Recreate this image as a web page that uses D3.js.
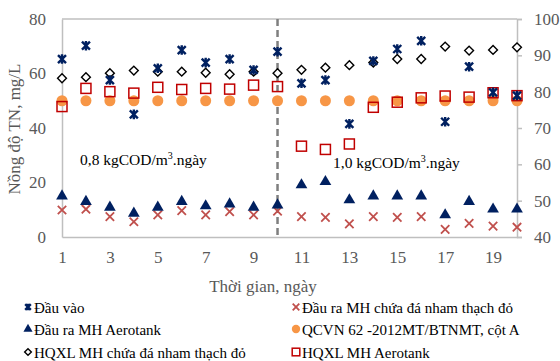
<!DOCTYPE html>
<html>
<head>
<meta charset="utf-8">
<script src="https://cdn.jsdelivr.net/npm/d3@7"></script>
<style>
  body { margin: 0; background: #fff; }
  svg, svg text { font-family: 'Liberation Serif', 'Times New Roman', 'DejaVu Serif', serif !important; }
</style>
</head>
<body>
<svg id="chart" width="560" height="361"></svg>
<script>
// days 1..20
const days = d3.range(1, 21);
const xTicks = [1, 3, 5, 7, 9, 11, 13, 15, 17, 19];
const leftTicks = [0, 20, 40, 60, 80];
const rightTicks = [40, 50, 60, 70, 80, 90, 100];

// left axis, mg/L
const dauVao = [65.3, 70.2, 57.6, 45.0, 61.9, 68.6, 64.0, 65.3, 61.3, 68.0,
                56.4, 57.6, 41.5, 64.6, 69.0, 72.0, 42.3, 62.5, 53.1, 51.9];
const raNhamThach = [9.9, 10.2, 7.5, 5.6, 8.1, 9.7, 8.1, 9.3, 8.1, 9.5,
                     7.5, 7.2, 4.8, 7.5, 7.2, 7.5, 2.8, 5.0, 4.0, 3.6];
const raAerotank = [15.0, 13.0, 10.9, 8.7, 10.9, 13.0, 11.4, 12.1, 10.9, 11.7,
                    19.1, 20.3, 13.6, 15.0, 15.0, 15.0, 8.1, 13.0, 10.2, 10.2];
const qcvn = [50, 50, 50, 50, 50, 50, 50, 50, 50, 50,
              50, 50, 50, 50, 50, 50, 50, 50, 50, 50];
// right axis, %
const hqxlNhamThach = [83.7, 84.0, 85.1, 85.8, 85.5, 85.5, 85.2, 84.8, 85.5, 85.1,
                       86.0, 86.6, 87.3, 88.0, 89.0, 89.0, 92.4, 91.3, 91.5, 92.2];
const hqxlAerotank = [75.9, 80.9, 80.0, 79.6, 81.2, 80.6, 80.9, 80.7, 81.8, 81.4,
                      65.0, 64.1, 65.6, 75.7, 77.1, 78.3, 78.8, 78.5, 79.7, 78.9];

const FONT = "'Liberation Serif', 'Times New Roman', serif";
const svg = d3.select('#chart').attr('font-family', FONT);
const margin = {top: 19, right: 43, bottom: 124, left: 62};
const W = 560, H = 361;
const x = d3.scaleLinear().domain([1, 20]).range([margin.left, W - margin.right]);
const yL = d3.scaleLinear().domain([0, 80]).range([H - margin.bottom, margin.top]);
const yR = d3.scaleLinear().domain([40, 100]).range([H - margin.bottom, margin.top]);

const grey = '#bfbfbf', txt = '#595959';

// plot border (top line)
svg.append('line')
  .attr('x1', x(1)).attr('x2', x(20))
  .attr('y1', yL(80)).attr('y2', yL(80))
  .attr('stroke', grey).attr('stroke-width', 1.5);

function styleAxis(g) {
  g.attr('font-family', FONT).attr('font-size', 17);
  g.select('.domain').attr('stroke', grey).attr('stroke-width', 1.5);
  g.selectAll('.tick line').attr('stroke', grey).attr('stroke-width', 1.5);
  g.selectAll('text').attr('fill', txt).attr('font-family', FONT);
}

// bottom axis
svg.append('g')
  .attr('transform', 'translate(0,' + yL(0) + ')')
  .call(d3.axisBottom(x).tickValues(xTicks).tickSize(0).tickPadding(14))
  .call(styleAxis);

// left axis
svg.append('g')
  .attr('transform', 'translate(' + x(1) + ',0)')
  .call(d3.axisLeft(yL).tickValues(leftTicks).tickSize(0).tickPadding(16))
  .call(styleAxis);

// right axis
svg.append('g')
  .attr('transform', 'translate(' + x(20) + ',0)')
  .call(d3.axisRight(yR).tickValues(rightTicks).tickSize(5).tickPadding(12))
  .call(styleAxis);

// axis titles
svg.append('text')
  .attr('x', 263).attr('y', 292)
  .attr('text-anchor', 'middle').attr('fill', txt).attr('font-size', 17)
  .text('Thời gian, ngày');
svg.append('text')
  .attr('transform', 'translate(20,129) rotate(-90)')
  .attr('text-anchor', 'middle').attr('fill', txt).attr('font-size', 17)
  .text('Nồng độ TN, mg/L');

// divider day 10
svg.append('line')
  .attr('x1', x(10)).attr('x2', x(10))
  .attr('y1', yL(80)).attr('y2', yL(0))
  .attr('stroke', '#7f7f7f').attr('stroke-width', 2.5)
  .attr('stroke-dasharray', '7,4');

// annotations
function loadLabel(xp, yp, val) {
  const t = svg.append('text').attr('x', xp).attr('y', yp)
    .attr('font-size', 15.5).attr('fill', '#000');
  t.append('tspan').text(val + ' kgCOD/m');
  t.append('tspan').attr('font-size', 10).attr('dy', -6).text('3');
  t.append('tspan').attr('dy', 6).text('.ngày');
}
loadLabel(80, 165, '0,8');
loadLabel(333, 168, '1,0');

// marker shapes
const navy = '#002060', red = '#c0504d', orange = '#f79646', dred = '#c00000';
const starPath = s => `M${-s},${-s}L${s},${s}M${s},${-s}L${-s},${s}M0,${-s * 1.2}L0,${s * 1.2}`;
const xPath = s => `M${-s},${-s}L${s},${s}M${s},${-s}L${-s},${s}`;

function series(data, y, draw) {
  const g = svg.append('g');
  data.forEach((v, i) => {
    const m = g.append('g').attr('transform', 'translate(' + x(days[i]) + ',' + y(v) + ')');
    draw(m);
  });
}
const drawCircle = (m, r) => m.append('circle').attr('r', r || 5.5).attr('fill', orange);
const drawSquare = (m, s) => m.append('rect').attr('x', -(s || 5)).attr('y', -(s || 5))
  .attr('width', 2 * (s || 5)).attr('height', 2 * (s || 5))
  .attr('fill', 'none').attr('stroke', dred).attr('stroke-width', 1.5);
const drawDiamond = (m, s) => m.append('path')
  .attr('d', d3.symbol(d3.symbolDiamond2, (s || 5) * (s || 5) * 2)())
  .attr('fill', '#fff').attr('stroke', '#000').attr('stroke-width', 1.4);
const drawCross = (m, s) => m.append('path').attr('d', xPath(s || 4.2))
  .attr('stroke', red).attr('stroke-width', 1.8).attr('fill', 'none');
const drawTri = (m, s) => m.append('path')
  .attr('d', d3.symbol(d3.symbolTriangle, s || 60)())
  .attr('fill', navy);
const drawStar = (m, s) => m.append('path').attr('d', starPath(s || 4))
  .attr('stroke', navy).attr('stroke-width', 2.4).attr('fill', 'none');

series(qcvn, yL, m => drawCircle(m));
series(hqxlNhamThach, yR, m => drawDiamond(m));
series(hqxlAerotank, yR, m => drawSquare(m));
series(raNhamThach, yL, m => drawCross(m));
series(raAerotank, yL, m => drawTri(m));
series(dauVao, yL, m => drawStar(m));

// legend
const legend = [
  {label: 'Đầu vào', col: 0, row: 0, draw: m => drawStar(m, 2.8)},
  {label: 'Đầu ra MH chứa đá nham thạch đỏ', col: 1, row: 0, draw: m => drawCross(m, 3.3)},
  {label: 'Đầu ra MH Aerotank', col: 0, row: 1, draw: m => drawTri(m, 36)},
  {label: 'QCVN 62 -2012MT/BTNMT, cột A', col: 1, row: 1, draw: m => drawCircle(m, 4.2)},
  {label: 'HQXL MH chứa đá nham thạch đỏ', col: 0, row: 2, draw: m => drawDiamond(m, 3.8)},
  {label: 'HQXL MH Aerotank', col: 1, row: 2, draw: m => drawSquare(m, 3.8)}
];
const colX = [28, 296], rowY = [307, 329, 352];
legend.forEach(d => {
  const g = svg.append('g').attr('transform', 'translate(' + colX[d.col] + ',' + rowY[d.row] + ')');
  d.draw(g.append('g'));
  g.append('text').attr('x', 6).attr('y', 5.5).attr('font-size', 15).attr('fill', '#000')
    .text(d.label);
});
</script>
</body>
</html>
